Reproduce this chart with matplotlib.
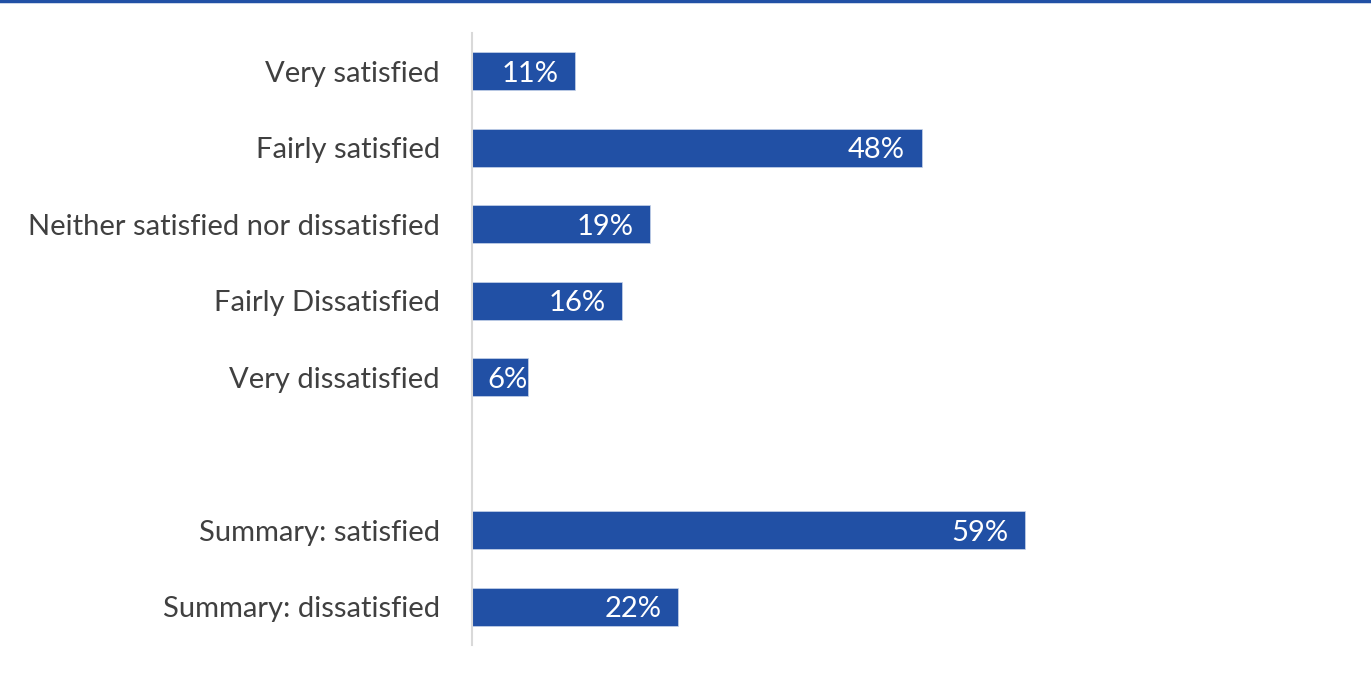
import matplotlib.pyplot as plt
from matplotlib.lines import Line2D

# Satisfaction responses (percent)
categories = ['Very satisfied', 'Fairly satisfied', 'Neither satisfied nor dissatisfied',
              'Fairly Dissatisfied', 'Very dissatisfied', '',
              'Summary: satisfied', 'Summary: dissatisfied']
values = [11, 48, 19, 16, 6, None, 59, 22]

bar_color = '#2150A5'
text_color = '#404040'
px_per_pct = 9.37

plt.rcParams['font.family'] = ['Lato', 'DejaVu Sans']

fig = plt.figure(figsize=(13.71, 6.75), dpi=100)
ax = fig.add_axes([472 / 1371, 30 / 675, 870 / 1371, 612 / 675])

pos = list(range(len(categories)))
for y, v in zip(pos, values):
    if v is None:
        continue
    ax.barh(y, v, height=0.5, color=bar_color, edgecolor='#c8d4ea', linewidth=0.5)
    if v * px_per_pct < 75:
        # too short for an inside-end label: start it near the bar base
        ax.annotate(f'{v}%', (0, y), xytext=(11, 0), textcoords='offset points',
                    color='white', fontsize=21, ha='left', va='center_baseline')
    else:
        ax.annotate(f'{v}%', (v, y), xytext=(-12, 0), textcoords='offset points',
                    color='white', fontsize=21, ha='right', va='center_baseline')

ax.set_ylim(len(categories) - 0.5, -0.5)
ax.set_xlim(0, 870 / px_per_pct)
ax.set_yticks(pos)
ax.set_yticklabels(categories, fontsize=21, color=text_color)
ax.tick_params(axis='y', length=0, pad=23)
ax.set_xticks([])

for s in ['top', 'right', 'bottom']:
    ax.spines[s].set_visible(False)
ax.spines['left'].set_color('#d9d9d9')
ax.spines['left'].set_linewidth(1.5)

# thin rule along the top edge
fig.add_artist(Line2D([0, 1], [0.998, 0.998], transform=fig.transFigure,
                      color=bar_color, linewidth=2.5))

fig.savefig('out.png', dpi=100)
